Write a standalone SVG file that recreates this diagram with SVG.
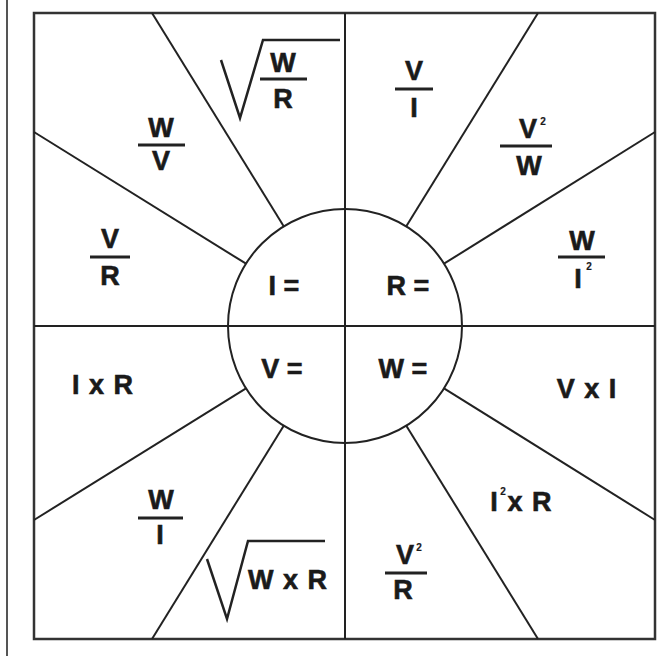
<svg xmlns="http://www.w3.org/2000/svg" width="664" height="656" viewBox="0 0 664 656">
<style>
.frame{fill:none;stroke:#333;stroke-width:2.5}
.ln{fill:none;stroke:#222;stroke-width:2}
.bar{stroke:#222;stroke-width:3}
.rad{fill:none;stroke:#222;stroke-width:2.5;stroke-linejoin:miter}
text{font-family:"Liberation Sans",Arial,sans-serif;font-weight:bold;fill:#1a1a1a;stroke:#1a1a1a;stroke-width:0.6;text-anchor:middle}
.t{font-size:27px}
.s{font-size:10px;stroke-width:0.2}
</style>
<rect width="664" height="656" fill="#fff"/>
<line x1="7" y1="0" x2="7" y2="656" stroke="#555" stroke-width="2"/>
<rect class="frame" x="34" y="13" width="621" height="626"/>
<g id="connectors">
<line class="ln" x1="345" y1="13" x2="345" y2="639"/>
<line class="ln" x1="34" y1="326" x2="655" y2="326"/>
<line class="ln" x1="152" y1="13" x2="283.7" y2="226.3"/>
<line class="ln" x1="34" y1="132" x2="246" y2="263.7"/>
<line class="ln" x1="538" y1="13" x2="406.3" y2="226.3"/>
<line class="ln" x1="655" y1="132" x2="444" y2="263.7"/>
<line class="ln" x1="34" y1="520" x2="246" y2="388.3"/>
<line class="ln" x1="152" y1="639" x2="283.7" y2="425.7"/>
<line class="ln" x1="655" y1="520" x2="444" y2="388.3"/>
<line class="ln" x1="538" y1="639" x2="406.3" y2="425.7"/>
</g>
<g id="center">
<circle class="ln" cx="345" cy="326" r="117"/>
<text class="t" x="284" y="295">I =</text>
<text class="t" x="408" y="295">R =</text>
<text class="t" x="282" y="378">V =</text>
<text class="t" x="403" y="378">W =</text>
</g>
<g id="i-sqrt">
<path class="rad" d="M221,60 L240,118 L263,40 L340,40"/>
<text class="t" x="283" y="72">W</text>
<line class="bar" x1="260" y1="79" x2="307" y2="79"/>
<text class="t" x="283" y="108">R</text>
</g>
<g id="i-wv">
<text class="t" x="161" y="137">W</text>
<line class="bar" x1="138" y1="145" x2="185" y2="145"/>
<text class="t" x="161" y="170">V</text>
</g>
<g id="i-vr">
<text class="t" x="110" y="248">V</text>
<line class="bar" x1="90" y1="257" x2="130" y2="257"/>
<text class="t" x="110" y="285">R</text>
</g>
<g id="r-vi">
<text class="t" x="414" y="80">V</text>
<line class="bar" x1="395" y1="89" x2="433" y2="89"/>
<text class="t" x="414" y="117">I</text>
</g>
<g id="r-v2w">
<text class="t" x="528" y="138">V</text>
<text class="s" x="543" y="125">2</text>
<line class="bar" x1="500" y1="146" x2="552" y2="146"/>
<text class="t" x="529" y="175">W</text>
</g>
<g id="r-wi2">
<text class="t" x="582" y="250">W</text>
<line class="bar" x1="558" y1="257" x2="605" y2="257"/>
<text class="t" x="578" y="288">I</text>
<text class="s" x="589" y="270">2</text>
</g>
<g id="v-ir">
<text class="t" x="103" y="394" letter-spacing="1">I x R</text>
</g>
<g id="w-vi">
<text class="t" x="587" y="398" letter-spacing="1">V x I</text>
</g>
<g id="v-wi">
<text class="t" x="161" y="509">W</text>
<line class="bar" x1="138" y1="518" x2="183" y2="518"/>
<text class="t" x="160" y="544">I</text>
</g>
<g id="v-sqrt">
<path class="rad" d="M207,559 L227,619 L248,541 L325,541"/>
<text class="t" x="288" y="589" letter-spacing="1">W x R</text>
</g>
<g id="w-i2r">
<text class="t" x="494" y="511">I</text>
<text class="s" x="503" y="495">2</text>
<text class="t" x="530" y="511" letter-spacing="1">x R</text>
</g>
<g id="w-v2r">
<text class="t" x="405" y="564">V</text>
<text class="s" x="419" y="551">2</text>
<line class="bar" x1="385" y1="573" x2="427" y2="573"/>
<text class="t" x="403" y="599">R</text>
</g>
</svg>
